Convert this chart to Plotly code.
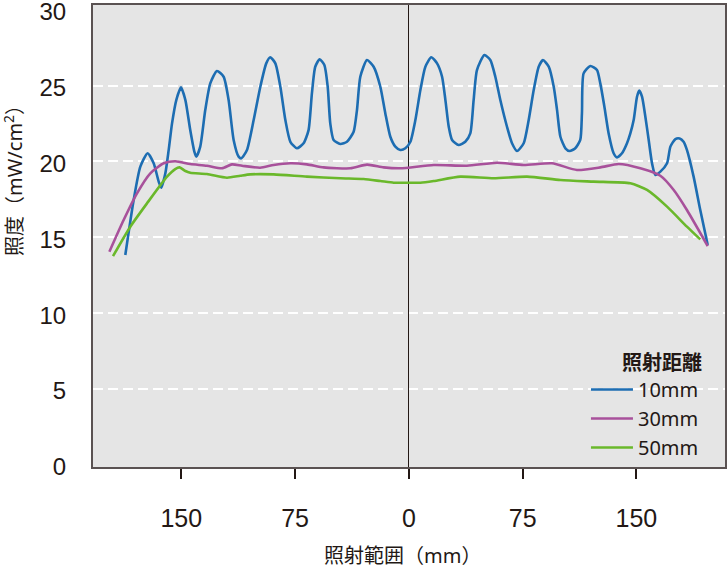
import plotly.graph_objects as go

# ---- data (x in mm, y in mW/cm2) ----
x_10 = [-186.9, -181.4, -177.0, -172.2, -168.2, -164.9, -163.2, -160.5, -158.3, -156.1,
        -153.3, -150.2, -147.3, -144.1, -141.4, -140.1, -137.5, -134.2, -130.9, -126.5,
        -122.1, -118.8, -115.5, -112.2, -110.4, -106.7, -102.3, -97.9, -94.0, -91.3,
        -88.0, -84.7, -81.4, -78.1, -73.8, -69.4, -66.1, -63.9, -61.7, -58.8,
        -55.7, -53.5, -51.8, -49.6, -45.2, -40.8, -36.4, -34.2, -32.0, -27.6,
        -23.2, -18.8, -15.5, -12.2, -8.9, -5.6, -2.3, 1.0, 4.3, 7.6,
        10.9, 14.8, 18.6, 21.9, 24.1, 26.3, 28.5, 32.8, 37.2, 40.5,
        42.7, 44.9, 49.8, 53.7, 57.0, 60.3, 64.7, 68.0, 71.3, 75.7,
        79.0, 82.3, 85.6, 88.4, 92.2, 95.5, 97.7, 99.9, 103.2, 106.0,
        109.7, 113.0, 114.1, 115.2, 119.6, 124.0, 126.2, 128.9, 131.7, 135.0,
        137.2, 140.5, 143.8, 146.0, 148.2, 150.4, 151.9, 153.7, 155.9, 158.1,
        160.3, 162.5, 165.8, 170.2, 172.4, 175.7, 178.5, 181.1, 183.3, 187.7,
        192.1, 197.0]
y_10 = [13.83, 17.46, 19.66, 20.54, 19.88, 18.67, 18.27, 19.22, 20.76, 22.51,
        24.05, 24.89, 24.05, 22.07, 20.65, 20.32, 20.98, 23.39, 25.15, 25.97,
        25.59, 24.05, 21.42, 20.32, 20.21, 20.76, 22.73, 24.93, 26.47, 26.87,
        26.47, 24.93, 22.73, 21.30, 20.87, 21.20, 22.07, 24.49, 26.25, 26.74,
        26.36, 24.93, 22.51, 21.42, 21.15, 21.30, 21.96, 23.39, 25.59, 26.69,
        26.25, 24.93, 23.17, 21.63, 20.98, 20.76, 20.87, 21.30, 22.73, 24.71,
        26.25, 26.87, 26.47, 25.59, 24.05, 22.29, 21.42, 21.09, 21.30, 21.85,
        24.05, 26.03, 27.02, 26.69, 25.59, 24.05, 22.29, 21.20, 20.69, 21.20,
        22.73, 24.71, 26.25, 26.69, 26.25, 24.93, 23.39, 21.63, 20.87, 20.69,
        20.87, 21.42, 23.17, 25.81, 26.30, 26.03, 25.15, 23.61, 21.85, 20.54,
        20.27, 20.54, 21.20, 21.85, 22.73, 24.27, 24.67, 24.27, 22.95, 21.42,
        19.88, 19.11, 19.33, 19.88, 20.98, 21.48, 21.52, 21.30, 20.76, 19.00,
        16.80, 14.49]

x_30 = [-197.4, -188.0, -179.2, -170.4, -161.6, -154.0, -144.1, -133.1, -123.2, -116.6,
        -109.9, -98.0, -89.1, -78.1, -67.2, -56.2, -38.6, -27.6, -16.6, -5.6,
        16.4, 38.3, 58.1, 75.7, 94.4, 110.8, 126.2, 138.3, 152.6, 165.8,
        174.6, 183.3, 197.0]
y_30 = [14.05, 16.14, 17.90, 19.22, 19.88, 20.01, 19.83, 19.72, 19.55, 19.81,
        19.72, 19.59, 19.77, 19.88, 19.81, 19.61, 19.55, 19.79, 19.61, 19.55,
        19.77, 19.72, 19.92, 19.77, 19.88, 19.44, 19.61, 19.83, 19.55, 19.06,
        18.12, 16.80, 14.42]

x_50 = [-195.0, -183.6, -172.6, -159.4, -154.0, -151.1, -147.3, -144.1, -133.1, -119.9,
        -111.1, -104.5, -89.1, -67.2, -45.2, -29.8, -18.8, -10.0, -5.6, 7.6,
        16.4, 33.9, 55.9, 77.9, 99.9, 121.8, 146.0, 157.0, 170.2, 183.3,
        192.1]
y_50 = [13.76, 15.70, 17.24, 19.00, 19.50, 19.61, 19.37, 19.26, 19.17, 18.93,
        19.06, 19.15, 19.15, 19.00, 18.89, 18.84, 18.71, 18.60, 18.60, 18.60,
        18.71, 19.00, 18.89, 19.00, 18.78, 18.67, 18.56, 18.12, 17.02, 15.70,
        14.86]

series_names = ["10mm", "30mm", "50mm"]
series_colors = ["#1d6db2", "#a8519b", "#6ab82b"]

x_tickvals = [-150, -75, 0, 75, 150]
x_ticktext = ["150", "75", "0", "75", "150"]
y_tickvals = [0, 5, 10, 15, 20, 25, 30]
y_gridvals = [5, 10, 15, 20, 25]

legend_title = "照射距離"
x_title = "照射範囲（mm）"
y_title = "照度（mW/cm<sup>2</sup>）"

INK = "#231815"
NUM_FONT = "Liberation Sans Narrow, Arial Narrow, Liberation Sans, Arial, sans-serif"
JP_FONT = "Noto Sans, Noto Sans CJK JP, sans-serif"

fig = go.Figure()
for xs, ys, name, col in zip([x_10, x_30, x_50], [y_10, y_30, y_50], series_names, series_colors):
    fig.add_trace(go.Scatter(x=xs, y=ys, mode="lines", name=name,
                             line=dict(color=col, width=2.6, shape="spline", smoothing=0.6)))

fig.update_layout(
    width=728, height=571,
    margin=dict(l=93, r=3, t=5, b=104, autoexpand=False),
    paper_bgcolor="white",
    plot_bgcolor="#e5e5e5",
    showlegend=True,
    legend=dict(
        x=0.78, y=0.0, xanchor="left", yanchor="bottom",
        bgcolor="rgba(0,0,0,0)",
        font=dict(family=JP_FONT, size=20, color=INK),
        title=dict(text=legend_title, side="top right",
                   font=dict(family=JP_FONT, size=20, color=INK, weight="bold")),
        itemwidth=42,
        tracegroupgap=0,
    ),
    xaxis=dict(
        range=[-208.2, 208.4], automargin=False,
        tickmode="array", tickvals=x_tickvals, ticktext=x_ticktext,
        ticks="outside", ticklen=10, tickwidth=1.5, tickcolor=INK,
        ticklabelstandoff=18,
        tickfont=dict(family=NUM_FONT, size=25, color=INK),
        showgrid=False,
        zeroline=True, zerolinecolor=INK, zerolinewidth=1,
        showline=True, linecolor="#5a5252", linewidth=2, mirror=True,
    ),
    yaxis=dict(
        range=[-0.15, 30.32], automargin=False,
        tickmode="array", tickvals=y_tickvals,
        ticks="", ticklabelstandoff=20, ticklabeloverflow="allow",
        ticklabelshift=2,
        tickfont=dict(family=NUM_FONT, size=24, color=INK),
        showgrid=False,
        minor=dict(tickmode="array", tickvals=y_gridvals, showgrid=True,
                   gridcolor="white", gridwidth=2, griddash="10px,5px", ticks=""),
        zeroline=False,
        showline=True, linecolor="#5a5252", linewidth=2, mirror=True,
    ),
    annotations=[
        dict(text=x_title, xref="paper", yref="paper", x=0.489, y=-0.192,
             xanchor="center", yanchor="middle", showarrow=False,
             font=dict(family=JP_FONT, size=20, color=INK)),
        dict(text=y_title, xref="paper", yref="paper", x=-0.125, y=0.63,
             xanchor="center", yanchor="middle", showarrow=False, textangle=-90,
             font=dict(family=JP_FONT, size=20, color=INK)),
    ],
)

fig.write_html("out.html")
